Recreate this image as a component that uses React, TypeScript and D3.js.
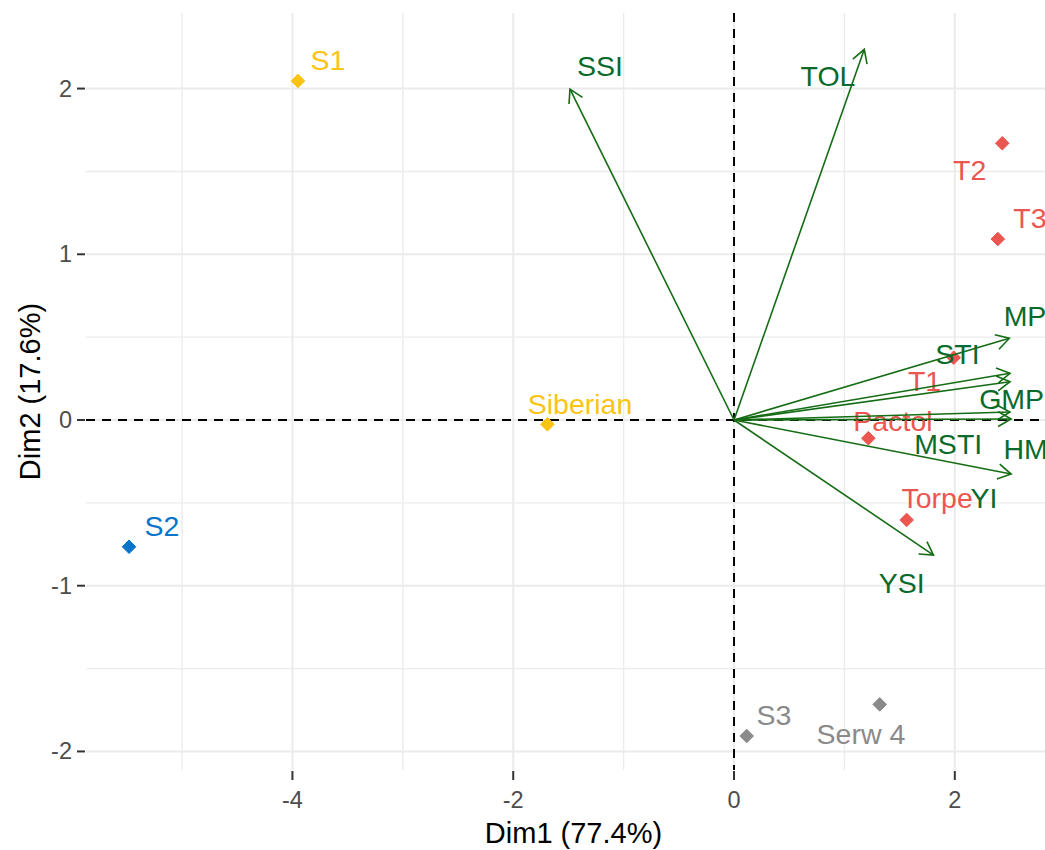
import React from "react";
import * as d3 from "d3";

// Individuals
const indNames = ["S1", "S2", "Siberian", "S3", "Serw 4", "T2", "T3", "T1", "Pactol", "Torpe"];
const indX = [-3.95, -5.48, -1.69, 0.115, 1.32, 2.43, 2.39, 1.99, 1.217, 1.564];
const indY = [2.046, -0.765, -0.026, -1.907, -1.716, 1.67, 1.092, 0.376, -0.11, -0.603];
const indGroup = [1, 0, 1, 2, 2, 3, 3, 3, 3, 3];
// repelled label anchor (data units)
const indLabX = [-3.678, -5.181, -1.395, 0.362, 1.15, 2.135, 2.681, 1.726, 1.44, 1.84];
const indLabY = [2.173, -0.64, 0.097, -1.78, -1.892, 1.509, 1.219, 0.235, -0.006, -0.471];
const groupColors = ["#0a74c9", "#fbc312", "#8a8a8a", "#ec5650"];

// Variables
const varNames = ["SSI", "TOL", "MP", "STI", "GMP", "MSTI", "HM", "YI", "YSI"];
const varX = [-1.486, 1.18, 2.494, 2.5, 2.5, 2.5, 2.51, 2.51, 1.807];
const varY = [1.997, 2.237, 0.493, 0.282, 0.231, 0.048, 0.006, -0.326, -0.815];
const varLabX = [-1.214, 0.851, 2.636, 2.024, 2.515, 1.94, 2.641, 2.264, 1.519];
const varLabY = [2.136, 2.076, 0.628, 0.398, 0.127, -0.145, -0.175, -0.471, -0.984];

const xMajor = [-4, -2, 0, 2];
const xMinor = [-5, -3, -1, 1];
const yMajor = [-2, -1, 0, 1, 2];
const yMinor = [-1.5, -0.5, 0.5, 1.5];

const xTitle = "Dim1 (77.4%)";
const yTitle = "Dim2 (17.6%)";

const W = 1045;
const H = 850;
const left = 86, right = 1061, top = 13, bottom = 770;
const FONT = "'Liberation Sans', Arial, sans-serif";

export default function App() {
  const x = d3.scaleLinear().domain([-5.87, 2.962]).range([left, right]);
  const y = d3.scaleLinear().domain([-2.112, 2.456]).range([bottom, top]);
  const x0 = x(0), y0 = y(0);
  const diamond = (cx: number, cy: number, r: number) =>
    `M${cx},${cy - r}L${cx + r},${cy}L${cx},${cy + r}L${cx - r},${cy}Z`;
  const arrowHead = (x1: number, y1: number, x2: number, y2: number) => {
    const ang = Math.atan2(y2 - y1, x2 - x1);
    const L = 15, a = Math.PI / 6;
    const p1 = [x2 - L * Math.cos(ang - a), y2 - L * Math.sin(ang - a)];
    const p2 = [x2 - L * Math.cos(ang + a), y2 - L * Math.sin(ang + a)];
    return `M${p1[0]},${p1[1]}L${x2},${y2}L${p2[0]},${p2[1]}`;
  };
  return (
    <svg width={W} height={H} style={{ display: "block", position: "absolute", left: 0, top: 0, background: "#fff" }}
      fontFamily={FONT}>
      <defs>
        <clipPath id="panel">
          <rect x={left} y={top} width={right - left} height={bottom - top} />
        </clipPath>
      </defs>
      <rect x={0} y={0} width={W} height={H} fill="#fff" />
      <g clipPath="url(#panel)">
        {xMinor.map((v) => (
          <line key={"xm" + v} x1={x(v)} x2={x(v)} y1={top} y2={bottom} stroke="#ececec" strokeWidth={1.4} />
        ))}
        {yMinor.map((v) => (
          <line key={"ym" + v} y1={y(v)} y2={y(v)} x1={left} x2={right} stroke="#ececec" strokeWidth={1.4} />
        ))}
        {xMajor.map((v) => (
          <line key={"xM" + v} x1={x(v)} x2={x(v)} y1={top} y2={bottom} stroke="#ebebeb" strokeWidth={2} />
        ))}
        {yMajor.map((v) => (
          <line key={"yM" + v} y1={y(v)} y2={y(v)} x1={left} x2={right} stroke="#ebebeb" strokeWidth={2} />
        ))}
        <line x1={x0} x2={x0} y1={top} y2={bottom} stroke="#000" strokeWidth={2} strokeDasharray="9,7" />
        <line y1={y0} y2={y0} x1={left} x2={right} stroke="#000" strokeWidth={2} strokeDasharray="9,7" />
        {indNames.map((n, i) => (
          <path key={"p" + n} d={diamond(x(indX[i]), y(indY[i]), 6.8)} fill={groupColors[indGroup[i]]}
            stroke={groupColors[indGroup[i]]} strokeWidth={1} strokeLinejoin="round" />
        ))}
        {indNames.map((n, i) => (
          <text key={"t" + n} x={x(indLabX[i])} y={y(indLabY[i])} fill={groupColors[indGroup[i]]}
            fontSize={28.5} textAnchor="middle" dominantBaseline="central">{n}</text>
        ))}
        {varNames.map((n, i) => {
          const x2 = x(varX[i]), y2 = y(varY[i]);
          return (
            <g key={"a" + n} stroke="#146c14" strokeWidth={1.6} fill="none">
              <line x1={x0} y1={y0} x2={x2} y2={y2} />
              <path d={arrowHead(x0, y0, x2, y2)} />
            </g>
          );
        })}
        {varNames.map((n, i) => (
          <text key={"v" + n} x={x(varLabX[i])} y={y(varLabY[i])} fill="#0a6a2c"
            fontSize={28.5} textAnchor="middle" dominantBaseline="central">{n}</text>
        ))}
      </g>
      {/* ticks */}
      {xMajor.map((v) => (
        <g key={"xt" + v}>
          <line x1={x(v)} x2={x(v)} y1={bottom + 1} y2={bottom + 10} stroke="#333" strokeWidth={2} />
          <text x={x(v)} y={808} fontSize={23.5} fill="#4d4d4d" textAnchor="middle">{String(v)}</text>
        </g>
      ))}
      {yMajor.map((v) => (
        <g key={"yt" + v}>
          <line x1={left - 9} x2={left - 1} y1={y(v)} y2={y(v)} stroke="#333" strokeWidth={2} />
          <text x={72} y={y(v)} fontSize={23.5} fill="#4d4d4d" textAnchor="end" dominantBaseline="central">{String(v)}</text>
        </g>
      ))}
      <text x={(left + right) / 2} y={843} fontSize={29} fill="#000" textAnchor="middle">{xTitle}</text>
      <text transform={`translate(40, ${(top + bottom) / 2}) rotate(-90)`} fontSize={29} fill="#000" textAnchor="middle">{yTitle}</text>
    </svg>
  );
}
